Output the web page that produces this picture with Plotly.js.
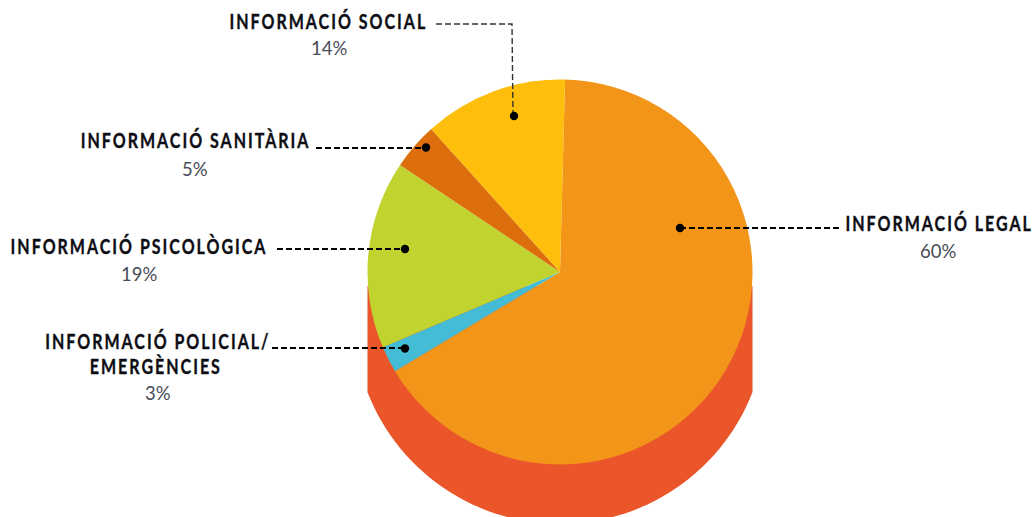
<!DOCTYPE html>
<html>
<head>
<meta charset="utf-8">
<script src="https://cdn.plot.ly/plotly-3.0.1.min.js"></script>
<style>
html,body{margin:0;padding:0;background:#fff;overflow:hidden}
#chart{width:1036px;height:517px}
.annotation text[style*="font-weight: 700"]{letter-spacing:2.5px;transform-box:fill-box;transform-origin:center;transform:scaleX(.8);stroke:#0d0d14;stroke-width:.35px}
</style>
</head>
<body>
<div id="chart"></div>
<script>
const categories = ["Informació legal", "Informació policial/emergències", "Informació psicològica", "Informació sanitària", "Informació social"];
const printedPercent = [60, 3, 19, 5, 14];
// Slices as they are actually drawn in the picture (degrees of the circle)
const drawnDegrees = [237.5, 8, 56.8, 14.2, 43.5];
const sliceColors = ["#F39519", "#45BCD5", "#C1D32F", "#DC6E0E", "#FDBE0C"];
const sideColor = "#EA562A";

const W = 1036, H = 517;
const cx = 560, cy = 272, r = 192.5;

const labelFont = {family: "Lato, 'Open Sans', sans-serif", size: 20, color: "#0d0d14", weight: 700};
const pctFont = {family: "Lato, 'Open Sans', sans-serif", size: 18.5, color: "#484c58", weight: 400};

function lab(text, x, y) {
  return {text, x, y, xref: "x", yref: "y", xanchor: "center", yanchor: "middle", showarrow: false, font: labelFont};
}
function pct(i, x, y) {
  return {text: printedPercent[i] + "%", x, y, xref: "x", yref: "y", xanchor: "center", yanchor: "middle", showarrow: false, font: pctFont};
}
const annotations = [
  lab("INFORMACIÓ LEGAL", 939, 222.5), pct(0, 938, 250.5),
  lab("INFORMACIÓ POLICIAL/", 157.5, 340.5), lab("EMERGÈNCIES", 155.5, 365.5), pct(1, 158, 392.5),
  lab("INFORMACIÓ PSICOLÒGICA", 139, 245.5), pct(2, 139, 273.5),
  lab("INFORMACIÓ SANITÀRIA", 195, 139.5), pct(3, 195, 168.5),
  lab("INFORMACIÓ SOCIAL", 328.5, 20.5), pct(4, 329, 47.5)
];

const leaders = [
  {path: "M436,24 L512,24 L513,116", color: "#333", width: 1.4},
  {path: "M316,148 L426,148", color: "#000", width: 2},
  {path: "M277,249 L405,249", color: "#000", width: 2},
  {path: "M272,348 L405,348", color: "#000", width: 2},
  {path: "M680,228 L840,228", color: "#000", width: 2}
];
const dots = [[680, 228], [405, 348.5], [405, 249], [426, 147.5], [514, 116]];

// Lower edge of the cylinder side: a circular arc between its two bottom corners
const arcCy = 317.4, arcR = 206.5;
const maxA = Math.asin(r / arcR);
let sidePath = `M${cx - r},286 L${cx + r},286 L${cx + r},392`;
for (let i = 1; i <= 60; i++) {
  const a = maxA - (2 * maxA * i) / 60;
  sidePath += ` L${(cx + arcR * Math.sin(a)).toFixed(2)},${(arcCy + arcR * Math.cos(a)).toFixed(2)}`;
}
sidePath += " Z";

const shapes = [
  {type: "path", layer: "below", xref: "x", yref: "y", fillcolor: sideColor, line: {width: 0}, path: sidePath}
].concat(leaders.map(l => ({
  type: "path", layer: "above", xref: "x", yref: "y", path: l.path,
  line: {color: l.color, width: l.width, dash: "6px,3px"}
}))).concat(dots.map(d => ({
  type: "circle", layer: "above", xref: "x", yref: "y",
  x0: d[0] - 4.2, x1: d[0] + 4.2, y0: d[1] - 4.2, y1: d[1] + 4.2,
  fillcolor: "#000", line: {width: 0}
})));

const trace = {
  type: "pie",
  labels: categories,
  values: drawnDegrees,
  customdata: printedPercent,
  sort: false,
  direction: "clockwise",
  rotation: 1.5,
  marker: {colors: sliceColors, line: {width: 0}},
  textinfo: "none",
  hovertemplate: "%{label}: %{customdata}%<extra></extra>",
  showlegend: false,
  domain: {x: [(cx - r) / W, (cx + r) / W], y: [1 - (cy + r) / H, 1 - (cy - r) / H]}
};

const layout = {
  width: W, height: H,
  margin: {l: 0, r: 0, t: 0, b: 0},
  paper_bgcolor: "#fff", plot_bgcolor: "rgba(0,0,0,0)",
  showlegend: false,
  xaxis: {range: [0, W], visible: false, fixedrange: true},
  yaxis: {range: [H, 0], visible: false, fixedrange: true},
  annotations, shapes
};
Plotly.newPlot("chart", [trace], layout, {displayModeBar: false});
</script>
</body>
</html>
